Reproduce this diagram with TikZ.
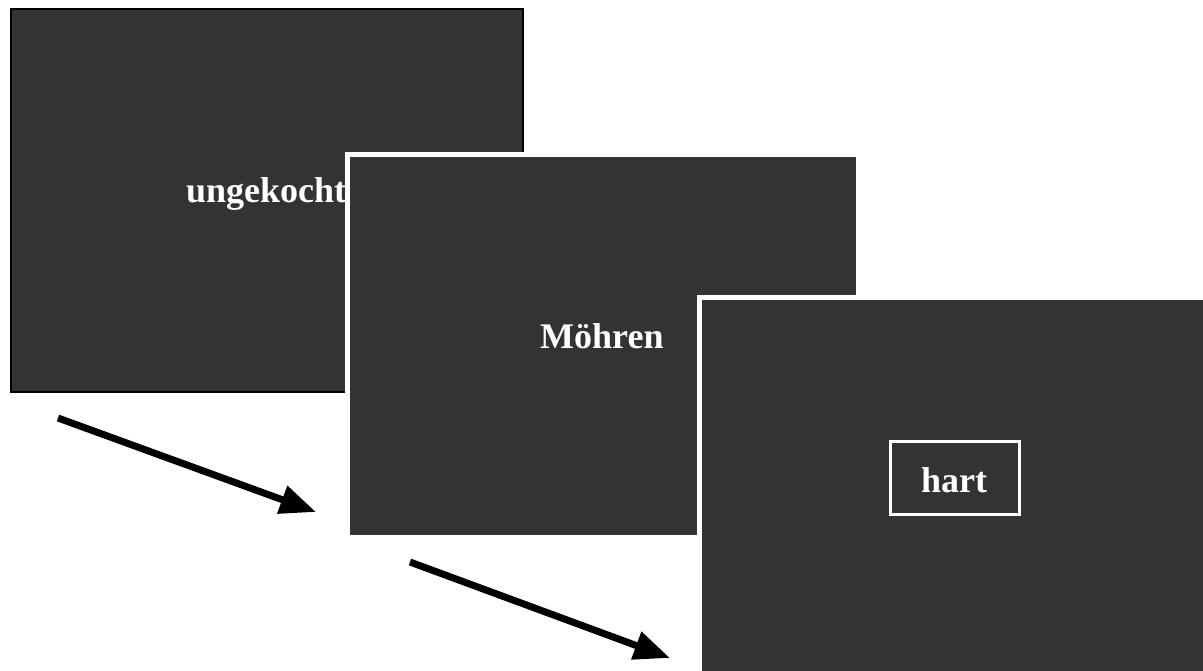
\documentclass[tikz,border=0pt]{standalone}
\usepackage{fontspec}
\setmainfont{Liberation Serif}
\usetikzlibrary{arrows.meta}
\definecolor{panelgray}{RGB}{51,51,51}
\tikzset{
  panel/.style={rectangle, fill=panelgray, inner sep=0pt, minimum width=511bp, minimum height=383bp},
  label/.style={text=white, font=\fontsize{36bp}{40bp}\selectfont\bfseries, inner sep=0pt, anchor=base west},
  flow/.style={line width=7bp, -{Triangle[length=36bp,width=28bp]}}
}
\begin{document}
\begin{tikzpicture}[x=1bp,y=-1bp]
\clip (0,0) rectangle (1203,671);
\fill[white] (0,0) rectangle (1203,671);
% panel 1
\node[panel, draw=black, line width=2bp, minimum width=512bp] (p1) at (267,200.5) {};
\node[label] (t1) at (186,203) {ungekocht};
% panel 2
\node[panel, draw=white, line width=5bp] (p2) at (603,346) {};
\node[label] (t2) at (540,348) {Möhren};
% panel 3
\node[panel, draw=white, line width=5bp] (p3) at (955,489) {};
\node[rectangle, draw=white, line width=3bp, minimum width=129bp, minimum height=73bp, inner sep=0pt] (hb) at (955,478) {};
\node[label] (t3) at (921,492) {hart};
% arrows
\coordinate (a1s) at (58,418);
\coordinate (a1e) at (316,512);
\coordinate (a2s) at (410,562);
\coordinate (a2e) at (670,658);
\draw[flow] (a1s) -- (a1e);
\draw[flow] (a2s) -- (a2e);
\end{tikzpicture}
\end{document}
